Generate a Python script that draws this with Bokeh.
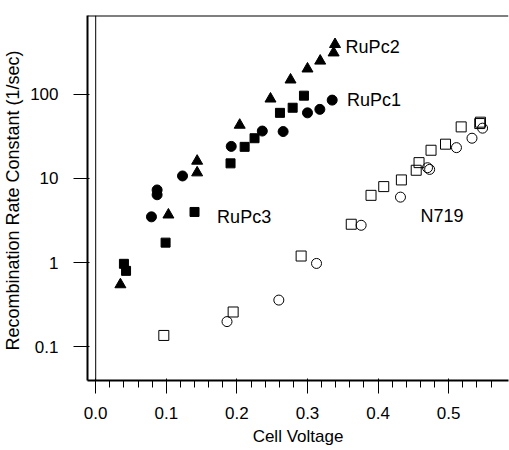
from bokeh.plotting import figure
from bokeh.models import Range1d, FixedTicker, Span, PrintfTickFormatter
from bokeh.core.properties import value
from bokeh.embed import file_html
from bokeh.resources import INLINE

FONT = "Liberation Sans"

# RuPc1 (filled circles): cell voltage (V), recombination rate constant (1/s)
rupc1_v = [0.079, 0.087, 0.087, 0.123, 0.192, 0.236, 0.2655, 0.300, 0.3175, 0.335]
rupc1_k = [3.5, 7.3, 6.4, 10.7, 24.0, 36.5, 36.0, 60.0, 66.0, 85.0]

# RuPc2 (filled triangles)
rupc2_v = [0.035, 0.103, 0.1437, 0.1437, 0.204, 0.2476, 0.276, 0.300, 0.318, 0.337, 0.339]
rupc2_k = [0.55, 3.7, 11.7, 16.1, 43.0, 88.0, 148.0, 200.0, 248.0, 310.0, 390.0]

# RuPc3 (filled squares)
rupc3_v = [0.040, 0.043, 0.099, 0.140, 0.191, 0.211, 0.225, 0.261, 0.279, 0.295]
rupc3_k = [0.97, 0.80, 1.73, 4.0, 15.1, 23.7, 30.0, 60.0, 69.0, 96.0]

# N719 (open squares)
n719a_v = [0.0965, 0.1947, 0.291, 0.362, 0.390, 0.408, 0.433, 0.454, 0.458, 0.475,
           0.4955, 0.5177, 0.544, 0.545]
n719a_k = [0.137, 0.26, 1.2, 2.86, 6.3, 8.0, 9.6, 12.5, 15.4, 21.6, 25.5, 40.9, 44.8, 46.5]

# N719 (open circles)
n719b_v = [0.186, 0.2594, 0.3128, 0.376, 0.4317, 0.470, 0.473, 0.511, 0.533, 0.548]
n719b_k = [0.20, 0.36, 0.98, 2.78, 6.0, 13.4, 12.8, 23.2, 30.0, 39.5]

# series name annotations
series_names = ["RuPc2", "RuPc1", "RuPc3", "N719"]
name_v = [0.354, 0.356, 0.172, 0.460]
name_k = [365.0, 85.0, 3.5, 3.6]

x_ticks = [0.0, 0.1, 0.2, 0.3, 0.4, 0.5]
x_minor = [round(0.02 * i, 2) for i in range(1, 29) if i % 5]
y_ticks = [0.1, 1, 10, 100]
y_labels = ["0.1", "1", "10", "100"]
x_title = "Cell Voltage"
y_title = "Recombination Rate Constant  (1/sec)"

W, H = 509, 450
LEFT, TOP, BOTTOM, RIGHT = 87, 15, 70, 1
px_per_v = 706.0
x_lo = -0.0116
x_hi = x_lo + (W - LEFT - RIGHT) / px_per_v
y_lo, y_hi = 0.040, 858

p = figure(width=W, height=H, output_backend="svg", toolbar_location=None,
           y_axis_type="log",
           x_range=Range1d(x_lo, x_hi), y_range=Range1d(y_lo, y_hi),
           min_border_left=LEFT, min_border_right=RIGHT, min_border_top=TOP,
           min_border_bottom=BOTTOM)
p.outline_line_color = None
p.xgrid.visible = False
p.ygrid.visible = False

# x axis
xa = p.xaxis[0]
xa.ticker = FixedTicker(ticks=x_ticks, minor_ticks=x_minor)
xa.formatter = PrintfTickFormatter(format="%.1f")
xa.axis_line_width = 2
xa.major_tick_out = 13
xa.minor_tick_out = 7
xa.major_label_text_font = FONT
xa.major_label_text_font_size = "17px"
xa.major_label_text_color = "black"
xa.major_label_standoff = 13
xa.axis_label = x_title
xa.axis_label_text_font = FONT
xa.axis_label_text_font_size = "17px"
xa.axis_label_text_font_style = "normal"
xa.axis_label_text_color = "black"
xa.axis_label_standoff = 5

# y axis
ya = p.yaxis[0]
ya.ticker = FixedTicker(ticks=y_ticks, minor_ticks=[])
ya.major_label_overrides = {t: s for t, s in zip(y_ticks, y_labels)}
ya.axis_line_width = 2
ya.major_tick_out = 14
ya.major_label_text_font = FONT
ya.major_label_text_font_size = "17px"
ya.major_label_text_color = "black"
ya.major_label_standoff = 15
ya.axis_label = y_title
ya.axis_label_text_font = FONT
ya.axis_label_text_font_size = "18px"
ya.axis_label_text_font_style = "normal"
ya.axis_label_text_color = "black"
ya.axis_label_standoff = 4

# top frame line and zero line
p.add_layout(Span(location=y_hi, dimension="width", line_color="black", line_width=2))
p.add_layout(Span(location=0, dimension="height", line_color="black", line_width=1))

# data
p.scatter(n719a_v, n719a_k, marker="square", size=10, fill_color=None,
          line_color="black", line_width=1)
p.scatter(n719b_v, n719b_k, marker="circle", size=10, fill_color=None,
          line_color="black", line_width=1)
p.scatter(rupc3_v, rupc3_k, marker="square", size=9, fill_color="black",
          line_color="black", line_width=1)
p.scatter(rupc1_v, rupc1_k, marker="circle", size=10, fill_color="black",
          line_color="black", line_width=1)
p.scatter(rupc2_v, rupc2_k, marker="triangle", size=11, fill_color="black",
          line_color="black", line_width=1)

p.text(x=name_v, y=name_k, text=series_names, text_font=value(FONT),
       text_font_size="18px", text_color="black", text_align="left",
       text_baseline="alphabetic")

open("out.html", "w").write(file_html(p, INLINE))
